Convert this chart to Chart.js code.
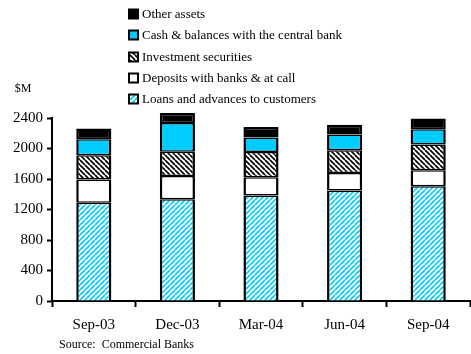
<!DOCTYPE html>
<html>
<head>
<meta charset="utf-8">
<script src="https://cdn.jsdelivr.net/npm/chart.js@4.4.0/dist/chart.umd.min.js"></script>
<style>
  body { margin: 0; background: #ffffff; }
  #plot-data { display: block; }
</style>
</head>
<body>
<canvas id="plot-data" width="471" height="354"></canvas>
<script>
var quarters = ['Sep-03', 'Dec-03', 'Mar-04', 'Jun-04', 'Sep-04'];
var loans = [1290, 1334, 1382, 1448, 1504];
var deposits = [302, 305, 240, 231, 210];
var investment = [319, 320, 332, 297, 337];
var cash = [210, 375, 189, 206, 201];
var other = [140, 132, 139, 131, 140];

var seriesNames = [
    'Loans and advances to customers',
    'Deposits with banks & at call',
    'Investment securities',
    'Cash & balances with the central bank',
    'Other assets'
];

var serif = "'Liberation Serif', 'Times New Roman', serif";
var cyan = '#00ccff';

function stripes(color, forward) {
    var size = 5;
    var c = document.createElement('canvas');
    c.width = size;
    c.height = size;
    var g = c.getContext('2d');
    g.fillStyle = '#ffffff';
    g.fillRect(0, 0, size, size);
    g.strokeStyle = color;
    g.lineWidth = 1.7;
    g.beginPath();
    for (var k = -1; k <= 1; k++) {
        if (forward) {
            g.moveTo(k * size, size);
            g.lineTo(k * size + size, 0);
        } else {
            g.moveTo(k * size, 0);
            g.lineTo(k * size + size, size);
        }
    }
    g.stroke();
    return g.createPattern(c, 'repeat');
}

var ctx = document.getElementById('plot-data').getContext('2d');

var fills = [stripes(cyan, true), '#ffffff', stripes('#000000', false), cyan, '#000000'];
var values = [loans, deposits, investment, cash, other];

var datasets = [];
for (var i = 0; i < values.length; i++) {
    datasets.push({
        label: seriesNames[i],
        data: values[i],
        backgroundColor: fills[i],
        borderColor: '#000000',
        borderWidth: { left: 2.5, right: 2.5, top: i == values.length - 1 ? 2.5 : 1.5, bottom: i == 0 ? 0 : 1.5 },
        borderSkipped: false,
        barPercentage: 0.42,
        categoryPercentage: 1,
        clip: false
    });
}

// legend, unit label and source note drawn straight on the canvas
var extras = {
    id: 'extras',
    afterDraw: function(chart) {
        var c = chart.ctx;
        c.save();
        c.font = '13px ' + serif;
        c.textBaseline = 'middle';
        c.fillStyle = '#000000';
        var rowY = [14, 35, 57, 78, 99];
        for (var r = 0; r < 5; r++) {
            var d = chart.data.datasets[4 - r];
            var y = rowY[r];
            c.fillStyle = '#000000';
            c.fillRect(128, y - 5.5, 11, 11);
            c.fillStyle = d.backgroundColor;
            c.fillRect(130, y - 3.5, 7, 7);
            c.fillStyle = '#000000';
            c.fillText(d.label, 142, y + 1);
        }
        c.font = '12px ' + serif;
        c.textAlign = 'center';
        c.fillText('$M', 23, 89);
        c.textAlign = 'left';
        c.fillText('Source:  Commercial Banks', 59, 345);
        c.restore();
    }
};

var graph_data = new Chart(ctx, {
    type: 'bar',
    data: {
        labels: quarters,
        datasets: datasets
    },
    plugins: [extras],
    options: {
        responsive: false,
        animation: false,
        layout: {
            padding: { top: 118, right: 1, left: 0, bottom: 0 }
        },
        plugins: {
            legend: { display: false },
            tooltip: { enabled: false }
        },
        scales: {
            x: {
                stacked: true,
                afterFit: function(scale) { scale.height = 53; },
                border: { color: '#000000', width: 2 },
                grid: {
                    offset: true,
                    drawOnChartArea: false,
                    drawTicks: true,
                    tickLength: 6,
                    tickWidth: 2,
                    tickColor: '#000000'
                },
                ticks: {
                    color: '#000000',
                    padding: 9,
                    maxRotation: 0,
                    font: { family: serif, size: 15 }
                }
            },
            y: {
                stacked: true,
                min: 0,
                max: 2400,
                afterFit: function(scale) { scale.width = 52; },
                border: { color: '#000000', width: 2 },
                grid: {
                    drawOnChartArea: false,
                    drawTicks: true,
                    tickLength: 5,
                    tickWidth: 2,
                    tickColor: '#000000'
                },
                ticks: {
                    stepSize: 400,
                    color: '#000000',
                    padding: 4,
                    font: { family: serif, size: 15 },
                    callback: function(value) {
                        return String(value);
                    }
                }
            }
        }
    }
});
</script>
</body>
</html>
